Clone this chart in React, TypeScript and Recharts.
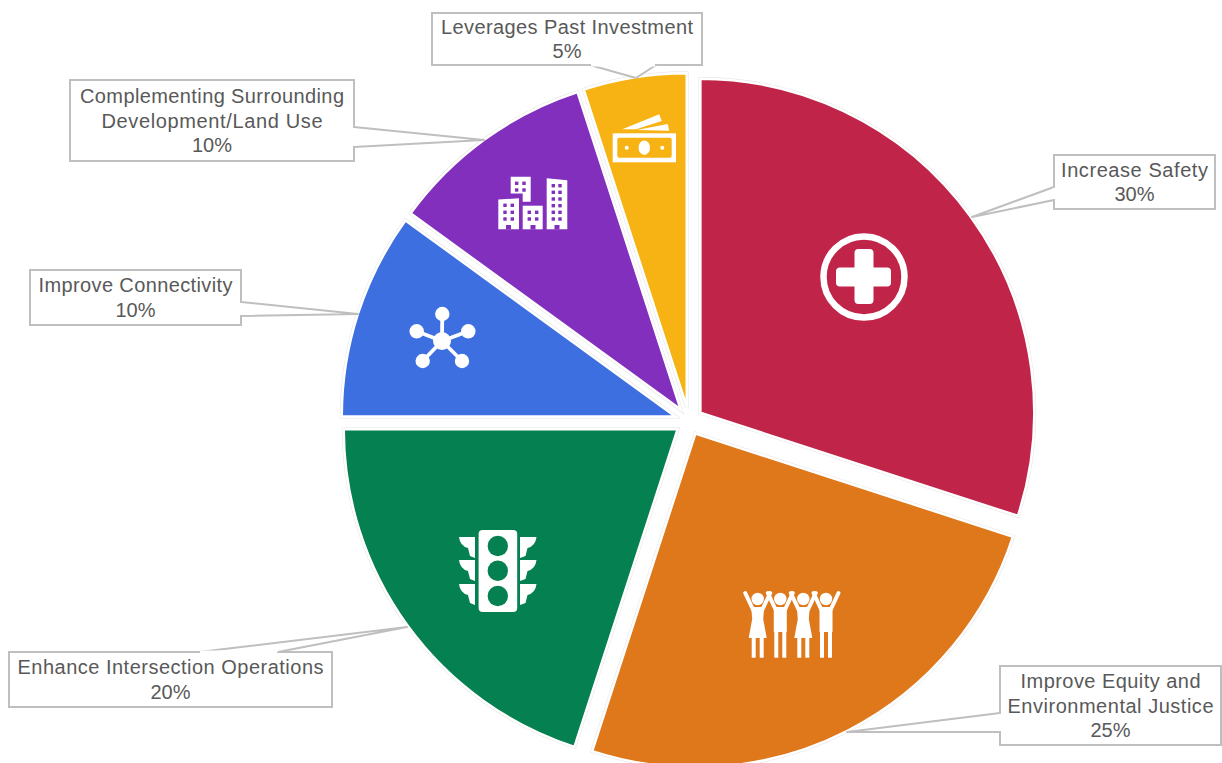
import React from "react";
import { PieChart, Pie, Sector } from "recharts";

const categories = [
  "Increase Safety",
  "Improve Equity and Environmental Justice",
  "Enhance Intersection Operations",
  "Improve Connectivity",
  "Complementing Surrounding Development/Land Use",
  "Leverages Past Investment",
];
const values = [30, 25, 20, 10, 10, 5];
const colors = ["#C02448", "#DE781B", "#058050", "#3E6FE0", "#812FBC", "#F7B313"];

// Callout text, wrapped the way the reference wraps it: [text, width]
const labelLines: [string, number][][] = [
  [["Increase Safety", 147]],
  [["Improve Equity and", 180], ["Environmental Justice", 206]],
  [["Enhance Intersection Operations", 306]],
  [["Improve Connectivity", 194]],
  [["Complementing Surrounding", 264], ["Development/Land Use", 221]],
  [["Leverages Past Investment", 252]],
];

// Callout geometry (page coordinates): box [x0,y0,x1,y1], pointer [ax,ay,bx,by,tipx,tipy]
const boxes = [
  [1054, 155, 1215, 209],
  [1000, 666, 1221, 745],
  [9, 652, 332, 707],
  [30, 270, 241, 325],
  [70, 80, 354, 161],
  [432, 13, 702, 65],
];
const pointers = [
  [1054, 187, 1054, 200, 972, 217],
  [1000, 713, 1000, 732, 847, 732],
  [199, 652, 278, 652, 407, 627],
  [241, 302, 241, 316, 358, 314],
  [354, 127, 354, 147, 484, 140],
  [590, 65, 656, 65, 636, 78],
];

const CX = 689;
const CY = 421;
const RADIUS = 334;
const EXPLODE = 14;
const TEXT = "#595959";

const chartData = categories.map((name, i) => ({ name, value: values[i], fill: colors[i] }));

const rad = Math.PI / 180;

function Safety() {
  return (
    <g fill="#fff">
      <circle cx={864} cy={277} r={40.5} fill="none" stroke="#fff" strokeWidth={6.5} />
      <rect x={836} y={267.5} width={55} height={19} rx={4} />
      <rect x={854.5} y={249} width={19} height={55} rx={4} />
    </g>
  );
}

function Person({ x, dress }: { x: number; dress: boolean }) {
  const y = 599;
  return (
    <g transform={`translate(${x},${y})`} fill="#fff" stroke="none">
      <circle cx={0} cy={0} r={6.2} />
      <path d="M-4.5,11 L-12.5,-6" stroke="#fff" strokeWidth={4} strokeLinecap="round" />
      <path d="M4.5,11 L12.5,-6" stroke="#fff" strokeWidth={4} strokeLinecap="round" />
      {dress ? (
        <path d="M-6.5,8 L6.5,8 L5.5,20 L9,39 L-9,39 L-5.5,20 Z" />
      ) : (
        <rect x={-6.5} y={8} width={13} height={25} />
      )}
      <rect x={-6} y={30} width={4} height={28.7} />
      <rect x={2} y={30} width={4} height={28.7} />
    </g>
  );
}

function Equity() {
  return (
    <g>
      <Person x={757.7} dress />
      <Person x={780.3} dress={false} />
      <Person x={803.3} dress />
      <Person x={826} dress={false} />
    </g>
  );
}

function Traffic() {
  const fill = colors[2];
  const tops = [537, 560, 584];
  return (
    <g fill="#fff">
      <rect x={478.6} y={530} width={38.6} height={82} rx={4} />
      {[546, 570.7, 596].map((y) => (
        <circle key={y} cx={497.8} cy={y} r={10.2} fill={fill} />
      ))}
      {tops.map((y) => (
        <g key={y}>
          <path d={`M475,${y} L459,${y} Q460,${y + 9} 468,${y + 11} L470,${y + 19} L475,${y + 21} Z`} />
          <path d={`M520,${y} L536.5,${y} Q535.5,${y + 9} 527.5,${y + 11} L525.5,${y + 19} L520,${y + 21} Z`} />
        </g>
      ))}
    </g>
  );
}

function Network() {
  const c = [442, 341];
  const sats = [
    [442.3, 314],
    [416.7, 331.3],
    [468.3, 331.3],
    [422.7, 361],
    [462, 361],
  ];
  return (
    <g fill="#fff">
      {sats.map(([x, y]) => (
        <g key={x}>
          <line x1={c[0]} y1={c[1]} x2={x} y2={y} stroke="#fff" strokeWidth={3.8} />
          <circle cx={x} cy={y} r={7.2} />
        </g>
      ))}
      <circle cx={c[0]} cy={c[1]} r={9} />
    </g>
  );
}

function Windows({ xs, ys, fill }: { xs: number[]; ys: number[]; fill: string }) {
  return (
    <g fill={fill}>
      {ys.flatMap((y) =>
        xs.map((x) => <rect key={`${x}-${y}`} x={x - 1.7} y={y - 1.7} width={3.4} height={3.4} />),
      )}
    </g>
  );
}

function Buildings() {
  const p = colors[4];
  return (
    <g>
      <path fill="#fff" d="M510.7,176.7 L530.7,176.7 L530.7,201.7 L522.7,201.7 L522.7,193.5 L510.7,193.5 Z" />
      <path fill="#fff" d="M498.3,199.5 L519,198.3 L519,229.3 L498.3,229.3 Z" />
      <rect fill="#fff" x={522.7} y={205.7} width={20} height={23.6} />
      <path fill="#fff" d="M546.7,178.3 L567.3,180.3 L567.3,229.3 L546.7,229.3 Z" />
      <Windows fill={p} xs={[516.7, 524]} ys={[183.3, 190]} />
      <Windows fill={p} xs={[505, 512.3]} ys={[205.3, 212.3, 219]} />
      <Windows fill={p} xs={[529.3, 536.7]} ys={[212.3, 219]} />
      <Windows fill={p} xs={[553.3, 560]} ys={[185.7, 192.3, 199, 205.7, 212.3, 219]} />
      <rect fill={p} x={506} y={225} width={5} height={4.5} />
      <rect fill={p} x={530.5} y={225} width={5} height={4.5} />
      <rect fill={p} x={554.5} y={225} width={5} height={4.5} />
    </g>
  );
}

function Money() {
  const y = colors[5];
  return (
    <g fill="#fff">
      <path d="M622.3,129.3 L659.3,114.3 L661.7,121 L636,129.3 Z" />
      <path d="M636.7,130 L667.7,124 L669.3,130.7 Z" />
      <rect x={612.7} y={133.3} width={63.3} height={29} />
      <rect x={617.3} y={137.7} width={54.4} height={20} rx={2} fill={y} />
      <ellipse cx={644.3} cy={147.7} rx={5.7} ry={7.3} />
      <circle cx={626.7} cy={147.7} r={2} />
      <circle cx={662.3} cy={147.7} r={2} />
    </g>
  );
}

const icons = [Safety, Equity, Traffic, Network, Buildings, Money];

function Slice(props: any) {
  const { cx, cy, innerRadius, outerRadius, startAngle, endAngle, midAngle, fill, index } = props;
  const dx = EXPLODE * Math.cos(-midAngle * rad);
  const dy = EXPLODE * Math.sin(-midAngle * rad);
  const Icon = icons[index];
  const common = {
    cx: cx + dx,
    cy: cy + dy,
    innerRadius,
    outerRadius,
    startAngle,
    endAngle,
  };
  return (
    <g>
      <Sector {...common} fill="none" stroke="#e4e4e4" strokeWidth={3.6} />
      <Sector {...common} fill={fill} stroke="#fff" strokeWidth={2.6} />
      <Icon />
    </g>
  );
}

function Callout(props: any) {
  const i = props.index;
  const [x0, y0, x1, y1] = boxes[i];
  const [ax, ay, bx, by, tx, ty] = pointers[i];
  const lines = [...labelLines[i], [`${values[i]}%`, 0] as [string, number]];
  const mid = (x0 + x1) / 2;
  const lh = 24.6;
  const first = (y0 + y1) / 2 - (lh * (lines.length - 1)) / 2 + 7;
  // The pointer opens into the box: the stretch of border between its two feet is erased.
  const horizontal = ay === by;
  const gapA = horizontal ? [ax + 1, ay] : [ax, ay + 1];
  const gapB = horizontal ? [bx - 1, by] : [bx, by - 1];
  return (
    <g>
      <rect x={x0} y={y0} width={x1 - x0} height={y1 - y0} fill="#fff" stroke="#bfbfbf" strokeWidth={2} />
      <path d={`M${ax},${ay} L${tx},${ty} L${bx},${by}`} fill="#fff" stroke="#bfbfbf" strokeWidth={2} strokeLinejoin="round" />
      <line x1={gapA[0]} y1={gapA[1]} x2={gapB[0]} y2={gapB[1]} stroke="#fff" strokeWidth={3} />
      {lines.map(([t, w], k) => (
        <text
          key={k}
          x={mid}
          y={first + k * lh}
          textAnchor="middle"
          fontFamily="'Liberation Sans', Arial, sans-serif"
          fontSize={20}
          fill={TEXT}
          {...(w ? { textLength: w, lengthAdjust: "spacing" } : {})}
        >
          {t}
        </text>
      ))}
    </g>
  );
}

export default function App() {
  return (
    <div style={{ position: "absolute", left: 0, top: 0, width: 1222, height: 763, background: "#fff", overflow: "hidden" }}>
      <PieChart width={1222} height={763} margin={{ top: 0, right: 0, bottom: 0, left: 0 }}>
        <Pie
          data={chartData}
          dataKey="value"
          nameKey="name"
          cx={CX}
          cy={CY}
          innerRadius={0}
          outerRadius={RADIUS}
          startAngle={90}
          endAngle={-270}
          stroke="none"
          shape={Slice}
          label={Callout}
          labelLine={false}
          isAnimationActive={false}
        />
      </PieChart>
    </div>
  );
}
